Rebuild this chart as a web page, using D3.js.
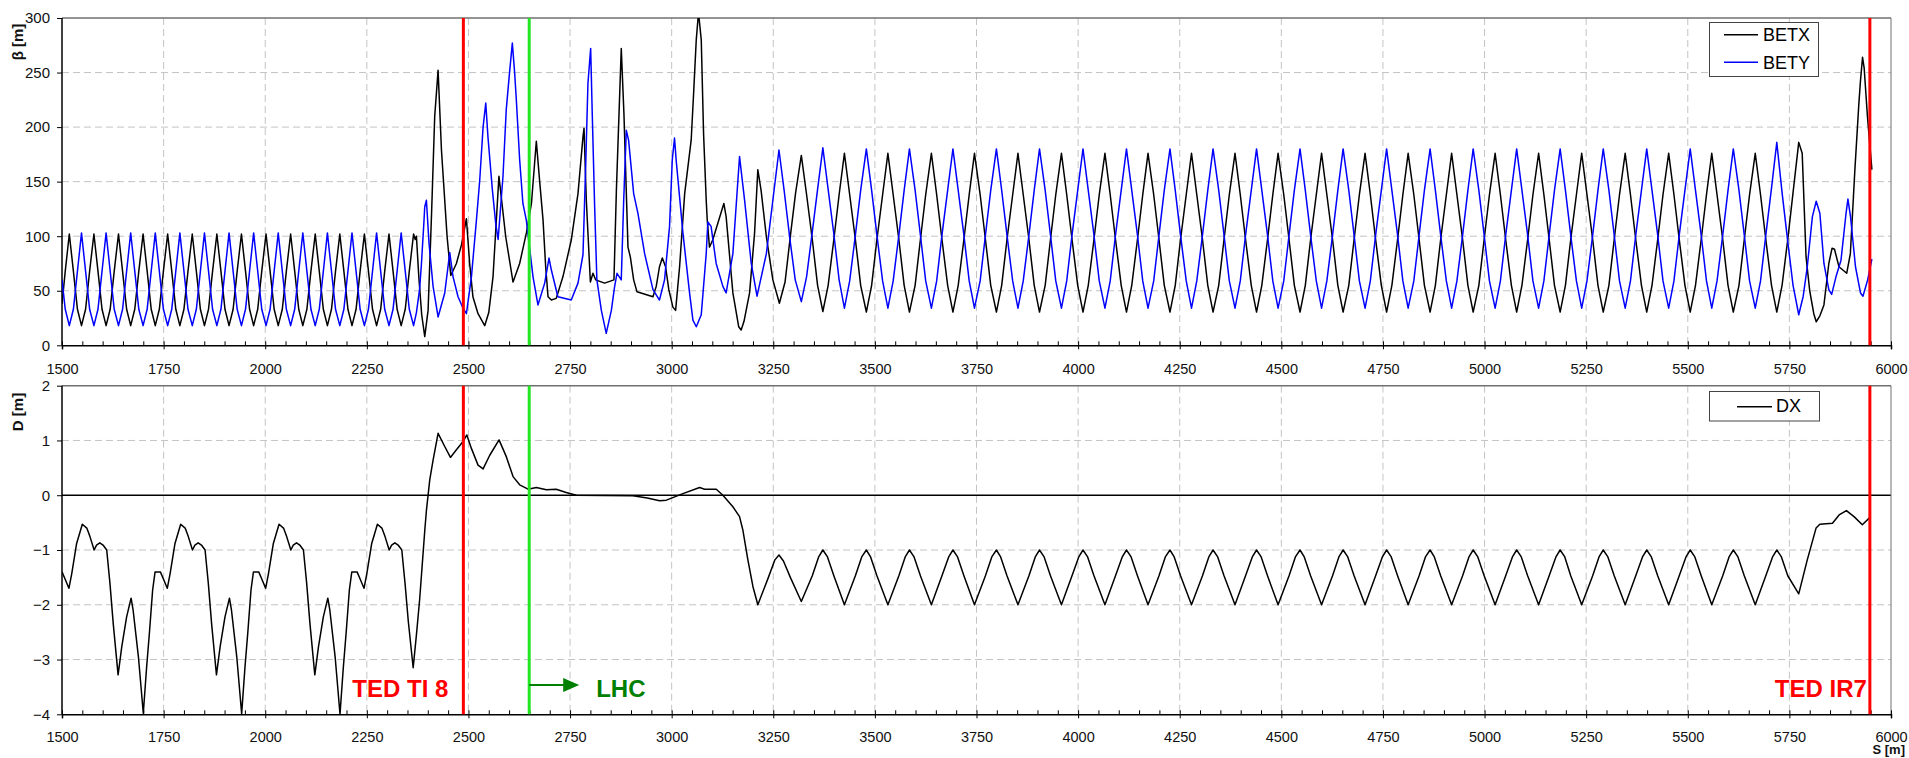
<!DOCTYPE html>
<html><head><meta charset="utf-8">
<script src="https://cdn.jsdelivr.net/npm/d3@7"></script>
<style>
body{margin:0;background:#fff}
svg{display:block}
text{font-family:"Liberation Sans",Arial,sans-serif}
</style>
</head><body>
<svg id="c" width="1909" height="758"></svg>
<script>
// ---------- data ----------
const sTicks = [1500,1750,2000,2250,2500,2750,3000,3250,3500,3750,4000,4250,4500,4750,5000,5250,5500,5750,6000];
const betaTicks = [0,50,100,150,200,250,300];
const dTicks = [-4,-3,-2,-1,0,1,2];
const seriesNamesTop = ["BETX","BETY"];
const seriesNamesBottom = ["DX"];
const markerS = [2487.5, 2649.5, 5948];
const markerNames = ["TED TI 8", "LHC", "TED IR7"];

const BETX = [
[1500,38],[1508,68],[1518,102],
[1528,68],[1538,33],[1548,18],[1558,33],[1568,68],[1578.5,102],
[1588.5,68],[1598.5,33],[1608.5,18],[1618.5,33],[1628.5,68],[1639,102],
[1649,68],[1659,33],[1669,18],[1679,33],[1689,68],[1699.5,102],
[1709.5,68],[1719.5,33],[1729.5,18],[1739.5,33],[1749.5,68],[1760,102],
[1770,68],[1780,33],[1790,18],[1800,33],[1810,68],[1820.5,102],
[1830.5,68],[1840.5,33],[1850.5,18],[1860.5,33],[1870.5,68],[1881,102],
[1891,68],[1901,33],[1911,18],[1921,33],[1931,68],[1941.5,102],
[1951.5,68],[1961.5,33],[1971.5,18],[1981.5,33],[1991.5,68],[2002,102],
[2012,68],[2022,33],[2032,18],[2042,33],[2052,68],[2062.5,102],
[2072.5,68],[2082.5,33],[2092.5,18],[2102.5,33],[2112.5,68],[2123,102],
[2133,68],[2143,33],[2153,18],[2163,33],[2173,68],[2183.5,102],
[2193.5,68],[2203.5,33],[2213.5,18],[2223.5,33],[2233.5,68],[2244,102],
[2254,68],[2264,33],[2274,18],[2284,33],[2294,68],[2304.5,102],
[2314.5,68],[2324.5,33],[2334.5,18],[2344.5,33],[2354.5,68],[2365,102],
[2369,97],[2372,100],[2378,62],[2385,28],[2392.5,8],[2400.7,32],[2409,118],[2417,210],[2425.3,252],
[2433.6,179],[2447.5,99.5],[2456.5,64],[2470.4,75],[2482.8,92],[2495,116],[2503,75],[2511,44.5],
[2523.6,29],[2540,18],[2550,30],[2560.5,63],[2575,155],[2591.7,99.5],[2609.7,58],[2626,75],
[2642.6,103],[2655,130],[2667,187],[2675.3,150],[2683.5,115],[2690,72],[2695.8,44.5],[2704,41.5],
[2716,43],[2732.6,63],[2753,96.5],[2769.5,139],[2781.8,191],[2784.4,199],[2790,133],[2800,58],
[2806.4,66],[2813,60],[2835,57],[2858,60],[2864,142],[2876,272],[2882.6,212],[2892.5,90],
[2898.3,81],[2906.5,60],[2914.7,49],[2954,44.5],[2962,54],[2970,72],[2977,80],[2985,72],
[2993,51],[3003,35],[3009.7,32],[3019.5,72],[3032,139],[3048,188],[3054,231],[3060.5,280],
[3066,305],[3072.8,280],[3078.5,194],[3085,133],[3087.5,115],[3093,90],[3101,96.5],[3128.4,130],
[3134,118],[3150.6,48],[3165,17],[3171,14],[3178,22],[3191.7,48],[3204,103],[3212,161],
[3220,142],[3233,99.5],[3249,60],[3265,38.5],[3279,58],[3292,100],[3305,140],[3319,174],
[3332,138],[3346,97],[3359,55],[3372,31],[3385,55],[3399,97],[3412,138],[3425,176],
[3438,138],[3452,97],[3465,55],[3479,30.5],[3492,55],[3505,97],[3519,138],[3532,176],
[3545,138],[3559,97],[3572,55],[3585,30.5],[3599,55],[3612,97],[3625,138],[3639,176],
[3652,138],[3665,97],[3679,55],[3692,30.5],[3705,55],[3719,97],[3732,138],[3745,176],
[3759,138],[3772,97],[3785,55],[3799,30.5],[3812,55],[3825,97],[3839,138],[3852,176],
[3865,138],[3879,97],[3892,55],[3905,30.5],[3919,55],[3932,97],[3945,138],[3959,176],
[3972,138],[3985,97],[3999,55],[4012,30.5],[4025,55],[4039,97],[4052,138],[4066,176],
[4079,138],[4092,97],[4106,55],[4119,30.5],[4132,55],[4146,97],[4159,138],[4172,176],
[4186,138],[4199,97],[4212,55],[4226,30.5],[4239,55],[4252,97],[4266,138],[4279,176],
[4292,138],[4306,97],[4319,55],[4332,30.5],[4346,55],[4359,97],[4372,138],[4386,176],
[4399,138],[4412,97],[4426,55],[4439,30.5],[4452,55],[4466,97],[4479,138],[4492,176],
[4506,138],[4519,97],[4532,55],[4546,30.5],[4559,55],[4572,97],[4586,138],[4599,176],
[4612,138],[4626,97],[4639,55],[4652,30.5],[4666,55],[4679,97],[4692,138],[4706,176],
[4719,138],[4732,97],[4746,55],[4759,30.5],[4772,55],[4786,97],[4799,138],[4812,176],
[4826,138],[4839,97],[4852,55],[4866,30.5],[4879,55],[4892,97],[4906,138],[4919,176],
[4932,138],[4946,97],[4959,55],[4972,30.5],[4986,55],[4999,97],[5012,138],[5026,176],
[5039,138],[5052,97],[5066,55],[5079,30.5],[5092,55],[5106,97],[5119,138],[5133,176],
[5146,138],[5159,97],[5172,55],[5186,30.5],[5199,55],[5212,97],[5226,138],[5239,176],
[5252,138],[5266,97],[5279,55],[5292,30.5],[5306,55],[5319,97],[5332,138],[5346,176],
[5359,138],[5372,97],[5386,55],[5399,30.5],[5412,55],[5426,97],[5439,138],[5453,176],
[5466,138],[5479,97],[5493,55],[5506,30.5],[5519,55],[5533,97],[5546,138],[5559,176],
[5572,138],[5586,97],[5599,55],[5612,30.5],[5626,55],[5639,97],[5652,138],[5666,176],
[5679,138],[5692,97],[5706,55],[5719,30.5],[5732,55],[5746,97],[5759,140],[5773,186],
[5781.5,176],[5791,81],[5800,50],[5810,29],[5816,21.6],[5825,27],[5835,37],[5847,75],
[5855,89],[5861,88],[5872,72],[5891,66],[5900,84],[5911,160],[5921,222],[5925,243],
[5930,264],[5934,254],[5942,210],[5953,161]
];

const BETY = [
[1500,60],[1508,33],[1518,18],
[1528,33],[1538,68],[1548,103],[1558,68],[1568,33],[1578.5,18],
[1588.5,33],[1598.5,68],[1608.5,103],[1618.5,68],[1628.5,33],[1639,18],
[1649,33],[1659,68],[1669,103],[1679,68],[1689,33],[1699.5,18],
[1709.5,33],[1719.5,68],[1729.5,103],[1739.5,68],[1749.5,33],[1760,18],
[1770,33],[1780,68],[1790,103],[1800,68],[1810,33],[1820.5,18],
[1830.5,33],[1840.5,68],[1850.5,103],[1860.5,68],[1870.5,33],[1881,18],
[1891,33],[1901,68],[1911,103],[1921,68],[1931,33],[1941.5,18],
[1951.5,33],[1961.5,68],[1971.5,103],[1981.5,68],[1991.5,33],[2002,18],
[2012,33],[2022,68],[2032,103],[2042,68],[2052,33],[2062.5,18],
[2072.5,33],[2082.5,68],[2092.5,103],[2102.5,68],[2112.5,33],[2123,18],
[2133,33],[2143,68],[2153,103],[2163,68],[2173,33],[2183.5,18],
[2193.5,33],[2203.5,68],[2213.5,103],[2223.5,68],[2233.5,33],[2244,18],
[2254,33],[2264,68],[2274,103],[2284,68],[2294,33],[2304.5,18],
[2314.5,33],[2324.5,68],[2334.5,103],[2344.5,68],[2354.5,33],[2365,18],
[2372,30],[2380,52],[2384.4,75],[2390,110],[2392.5,127],[2396.6,133],[2403,93.5],[2413,54],
[2425.3,26],[2441.7,48],[2454,85],[2462,63],[2474.4,44.5],[2486.7,34],[2495,29],[2507.4,63],
[2519.7,115],[2527.8,151.5],[2536,200],[2542.6,222],[2548,191],[2559,142],[2567,112],[2573,97],
[2585,155],[2593,216],[2601.6,252],[2608,277],[2613.8,249],[2617.8,225],[2626,170],[2634,130],
[2642.3,115],[2658.8,63],[2671,37],[2687.6,57],[2698.2,80],[2704,69],[2720,44.5],[2753,41.5],
[2769.5,57],[2781.8,83],[2788.4,164],[2794,240],[2800.7,272],[2804.8,209.5],[2810.5,127],[2816,60],
[2827,32],[2839,11],[2851.6,32],[2859.7,54],[2865.5,66],[2876,60],[2882,133],[2888.4,197],
[2894,188],[2906.5,139],[2917,121],[2933.5,84],[2954,51],[2970,41.5],[2982.5,60],[2994.8,109],
[3001.5,170],[3007,190],[3011,170],[3027.7,103],[3044,48],[3052.3,23],[3060.6,17],[3072.8,28],
[3085,84],[3089,113],[3097,109],[3109.5,75],[3126,54],[3134,48],[3150.6,84],[3167,173],
[3179.4,133],[3195.8,75],[3210,45],[3233,84],[3248,130],[3264,179],[3277,141],[3290,100],
[3304,60],[3319,40],
[3332,63],[3346,104],[3359,143],[3372,181],[3385,143],[3399,102],[3412,60],[3425,34],
[3438,59],[3452,101],[3465,142],[3479,180],[3492,142],[3505,101],[3519,59],[3532,34],
[3545,59],[3559,101],[3572,142],[3585,180],[3599,142],[3612,101],[3625,59],[3639,34],
[3652,59],[3665,101],[3679,142],[3692,180],[3705,142],[3719,101],[3732,59],[3745,34],
[3759,59],[3772,101],[3785,142],[3799,180],[3812,142],[3825,101],[3839,59],[3852,34],
[3865,59],[3879,101],[3892,142],[3905,180],[3919,142],[3932,101],[3945,59],[3959,34],
[3972,59],[3985,101],[3999,142],[4012,180],[4025,142],[4039,101],[4052,59],[4066,34],
[4079,59],[4092,101],[4106,142],[4119,180],[4132,142],[4146,101],[4159,59],[4172,34],
[4186,59],[4199,101],[4212,142],[4226,180],[4239,142],[4252,101],[4266,59],[4279,34],
[4292,59],[4306,101],[4319,142],[4332,180],[4346,142],[4359,101],[4372,59],[4386,34],
[4399,59],[4412,101],[4426,142],[4439,180],[4452,142],[4466,101],[4479,59],[4492,34],
[4506,59],[4519,101],[4532,142],[4546,180],[4559,142],[4572,101],[4586,59],[4599,34],
[4612,59],[4626,101],[4639,142],[4652,180],[4666,142],[4679,101],[4692,59],[4706,34],
[4719,59],[4732,101],[4746,142],[4759,180],[4772,142],[4786,101],[4799,59],[4812,34],
[4826,59],[4839,101],[4852,142],[4866,180],[4879,142],[4892,101],[4906,59],[4919,34],
[4932,59],[4946,101],[4959,142],[4972,180],[4986,142],[4999,101],[5012,59],[5026,34],
[5039,59],[5052,101],[5066,142],[5079,180],[5092,142],[5106,101],[5119,59],[5133,34],
[5146,59],[5159,101],[5172,142],[5186,180],[5199,142],[5212,101],[5226,59],[5239,34],
[5252,59],[5266,101],[5279,142],[5292,180],[5306,142],[5319,101],[5332,59],[5346,34],
[5359,59],[5372,101],[5386,142],[5399,180],[5412,142],[5426,101],[5439,59],[5453,34],
[5466,59],[5479,101],[5493,142],[5506,180],[5519,142],[5533,101],[5546,59],[5559,34],
[5572,59],[5586,101],[5599,142],[5612,180],[5626,142],[5639,101],[5652,59],[5666,34],
[5679,59],[5692,101],[5706,144],[5719,186],[5732,140],[5746,95],[5759,55],[5773,28],
[5784,45],[5794,72],[5806.6,118],[5816,132],[5825,121],[5835,75],[5847,51],[5854,46.7],
[5864.8,63],[5877,78],[5889.4,121],[5894,134],[5900.4,118],[5912.6,72],[5925,48],[5931,45],
[5942.6,60],[5953,79]
];

const DX = [
[1500,-1.40],[1507,-1.52],[1517,-1.70],[1524,-1.43],[1536,-0.88],[1550,-0.53],[1561,-0.60],[1569,-0.76],[1579,-1.00],[1585,-0.91],[1593,-0.87],[1601,-0.91],[1610,-1.00],[1618,-1.61],[1626,-2.34],[1638,-3.28],[1647,-2.77],[1659,-2.22],[1670,-1.88],[1675,-2.10],[1688,-2.95],[1700,-3.98],[1708,-3.16],[1715,-2.52],[1723,-1.73],[1729,-1.40],[1737,-1.40],
[1742,-1.40],[1749,-1.52],[1759,-1.70],[1766,-1.43],[1778,-0.88],[1792,-0.53],[1803,-0.60],[1811,-0.76],[1821,-1.00],[1827,-0.91],[1835,-0.87],[1843,-0.91],[1852,-1.00],[1860,-1.61],[1868,-2.34],[1880,-3.28],[1889,-2.77],[1901,-2.22],[1912,-1.88],[1917,-2.10],[1930,-2.95],[1942,-3.99],[1950,-3.16],[1957,-2.52],[1965,-1.73],[1971,-1.40],[1979,-1.40],
[1984,-1.40],[1991,-1.52],[2001,-1.70],[2008,-1.43],[2020,-0.88],[2034,-0.53],[2045,-0.60],[2053,-0.76],[2063,-1.00],[2069,-0.91],[2077,-0.87],[2085,-0.91],[2094,-1.00],[2102,-1.61],[2110,-2.34],[2122,-3.28],[2131,-2.77],[2143,-2.22],[2154,-1.88],[2159,-2.10],[2172,-2.95],[2184,-4.0],[2192,-3.16],[2199,-2.52],[2207,-1.73],[2213,-1.40],[2221,-1.40],
[2226,-1.40],[2233,-1.52],[2243,-1.70],[2250,-1.43],[2262,-0.88],[2276,-0.53],[2287,-0.60],[2295,-0.76],[2305,-1.00],[2311,-0.91],[2319,-0.87],[2327,-0.91],[2336,-1.00],[2344,-1.61],[2352,-2.30],[2364,-3.15],
[2372,-2.55],[2380,-1.9],[2386,-1.3],[2392.6,-0.64],[2396.7,-0.27],[2404.8,0.28],[2413,0.64],[2425.3,1.13],
[2441.7,0.89],[2455.7,0.69],[2470.4,0.83],[2486.7,0.98],[2496,1.10],[2507,0.86],[2523.6,0.55],[2536,0.48],
[2552.4,0.73],[2575.3,1.01],[2593.4,0.70],[2609.7,0.34],[2626,0.19],[2646.6,0.11],[2667,0.14],[2691.8,0.10],
[2716,0.11],[2740.6,0.05],[2765.5,0.0],[2904.7,-0.01],[2940,-0.05],[2970.4,-0.10],[2987,-0.09],[3027.7,0.03],
[3068.7,0.14],[3081,0.11],[3109.8,0.11],[3126,0.0],[3150.6,-0.21],[3167,-0.39],[3175.3,-0.64],[3187.5,-1.18],
[3200,-1.67],[3212,-2.0],
[3238,-1.5],[3254,-1.18],[3264,-1.09],[3275,-1.2],[3292,-1.5],[3319,-1.94],
[3346,-1.47],[3362,-1.12],[3372,-1.0],[3383,-1.12],[3399,-1.47],[3425,-2.0],
[3452,-1.47],[3468,-1.12],[3479,-1.0],[3489,-1.12],[3505,-1.47],[3532,-2.0],
[3559,-1.47],[3575,-1.12],[3585,-1.0],[3596,-1.12],[3612,-1.47],[3639,-2.0],
[3665,-1.47],[3682,-1.12],[3692,-1.0],[3703,-1.12],[3719,-1.47],[3745,-2.0],
[3772,-1.47],[3788,-1.12],[3799,-1.0],[3809,-1.12],[3825,-1.47],[3852,-2.0],
[3879,-1.47],[3895,-1.12],[3905,-1.0],[3916,-1.12],[3932,-1.47],[3959,-2.0],
[3985,-1.47],[4002,-1.12],[4012,-1.0],[4023,-1.12],[4039,-1.47],[4066,-2.0],
[4092,-1.47],[4109,-1.12],[4119,-1.0],[4130,-1.12],[4146,-1.47],[4172,-2.0],
[4199,-1.47],[4215,-1.12],[4226,-1.0],[4236,-1.12],[4252,-1.47],[4279,-2.0],
[4306,-1.47],[4322,-1.12],[4332,-1.0],[4343,-1.12],[4359,-1.47],[4386,-2.0],
[4412,-1.47],[4429,-1.12],[4439,-1.0],[4450,-1.12],[4466,-1.47],[4492,-2.0],
[4519,-1.47],[4535,-1.12],[4546,-1.0],[4556,-1.12],[4572,-1.47],[4599,-2.0],
[4626,-1.47],[4642,-1.12],[4652,-1.0],[4663,-1.12],[4679,-1.47],[4706,-2.0],
[4732,-1.47],[4749,-1.12],[4759,-1.0],[4770,-1.12],[4786,-1.47],[4812,-2.0],
[4839,-1.47],[4855,-1.12],[4866,-1.0],[4876,-1.12],[4892,-1.47],[4919,-2.0],
[4946,-1.47],[4962,-1.12],[4972,-1.0],[4983,-1.12],[4999,-1.47],[5026,-2.0],
[5052,-1.47],[5069,-1.12],[5079,-1.0],[5090,-1.12],[5106,-1.47],[5133,-2.0],
[5159,-1.47],[5176,-1.12],[5186,-1.0],[5197,-1.12],[5212,-1.47],[5239,-2.0],
[5266,-1.47],[5282,-1.12],[5292,-1.0],[5303,-1.12],[5319,-1.47],[5346,-2.0],
[5372,-1.47],[5389,-1.12],[5399,-1.0],[5410,-1.12],[5426,-1.47],[5453,-2.0],
[5479,-1.47],[5496,-1.12],[5506,-1.0],[5517,-1.12],[5533,-1.47],[5559,-2.0],
[5586,-1.47],[5602,-1.12],[5612,-1.0],[5623,-1.12],[5639,-1.47],[5666,-2.0],
[5692,-1.47],[5709,-1.12],[5719,-1.0],[5730,-1.12],[5746,-1.47],[5773,-1.80],
[5794,-1.18],[5815.6,-0.60],[5825,-0.53],[5856,-0.51],[5872.3,-0.36],[5890.3,-0.28],[5909,-0.39],[5929.5,-0.54],[5950,-0.39]
];

// ---------- layout ----------
const svg = d3.select("#c");
const x = d3.scaleLinear().domain([1500,6000]).range([62,1891]);
const yB = d3.scaleLinear().domain([0,300]).range([345.3,18]);
const yD = d3.scaleLinear().domain([-4,2]).range([714.3,385.7]);
const minorS = d3.range(1500, 6001, 50);

const defs = svg.append("defs");
function clip(id, y){
  defs.append("clipPath").attr("id", id).append("rect")
    .attr("x", x.range()[0]).attr("y", y.range()[1])
    .attr("width", x.range()[1]-x.range()[0]).attr("height", y.range()[0]-y.range()[1]);
}
clip("cpB", yB); clip("cpD", yD);

function drawPanel(y, yTicks, gridYs, zeroLine, pad){
  const g = svg.append("g");
  const [x0,x1] = x.range(); const [yb,yt] = y.range();
  g.selectAll(".gx").data(sTicks.slice(1,-1)).join("line")
    .attr("x1", d=>x(d)).attr("x2", d=>x(d)).attr("y1", yt).attr("y2", yb)
    .attr("stroke", "#c4c4c4").attr("stroke-width", 1).attr("stroke-dasharray", "7,4");
  g.selectAll(".gy").data(gridYs).join("line")
    .attr("x1", x0).attr("x2", x1).attr("y1", d=>y(d)).attr("y2", d=>y(d))
    .attr("stroke", "#c4c4c4").attr("stroke-width", 1).attr("stroke-dasharray", "7,4");
  if (zeroLine) g.append("line").attr("x1",x0).attr("x2",x1).attr("y1",y(0)).attr("y2",y(0))
    .attr("stroke","#000").attr("stroke-width",1.5);
  g.append("line").attr("x1",x0).attr("x2",x1).attr("y1",yt).attr("y2",yt).attr("stroke","#707070").attr("stroke-width",1.5);
  g.append("line").attr("x1",x1).attr("x2",x1).attr("y1",yt).attr("y2",yb).attr("stroke","#707070").attr("stroke-width",1);
  const ax = g.append("g").attr("transform",`translate(0,${yb})`)
    .call(d3.axisBottom(x).tickValues(sTicks).tickSize(4).tickPadding(pad).tickFormat(d3.format("d")));
  ax.select(".domain").attr("stroke","#000").attr("stroke-width",1.5);
  ax.selectAll("text").attr("font-size",14.5).attr("fill","#111").attr("font-family",'"Liberation Sans",Arial,sans-serif');
  g.append("g").attr("transform",`translate(0,${yb})`)
    .call(d3.axisBottom(x).tickValues(minorS).tickSize(-4).tickFormat(""))
    .call(s=>s.select(".domain").remove());
  const ay = g.append("g").attr("transform",`translate(${x0},0)`)
    .call(d3.axisLeft(y).tickValues(yTicks).tickSize(5).tickPadding(7).tickFormat(d3.format("d")));
  ay.select(".domain").attr("stroke","#000").attr("stroke-width",1.5).attr("d",`M0,${yt}V${yb}`);
  ay.selectAll("text").attr("font-size",15).attr("fill","#111").attr("font-family",'"Liberation Sans",Arial,sans-serif');
  return g;
}

drawPanel(yB, betaTicks, [50,100,150,200,250], false, 14);
drawPanel(yD, dTicks, [-3,-2,-1,1], true, 13);

const lineB = d3.line().x(d=>x(d[0])).y(d=>yB(d[1]));
const lineD = d3.line().x(d=>x(d[0])).y(d=>yD(d[1]));
const gB = svg.append("g").attr("clip-path","url(#cpB)");
gB.append("path").datum(BETX).attr("d",lineB).attr("fill","none").attr("stroke","#000").attr("stroke-width",1.5).attr("stroke-linejoin","round");
gB.append("path").datum(BETY).attr("d",lineB).attr("fill","none").attr("stroke","#0000ff").attr("stroke-width",1.5).attr("stroke-linejoin","round");
const gD = svg.append("g").attr("clip-path","url(#cpD)");
gD.append("path").datum(DX).attr("d",lineD).attr("fill","none").attr("stroke","#000").attr("stroke-width",1.5).attr("stroke-linejoin","round");

const markerColors = ["#ff0000","#22e622","#ff0000"];
[yB, yD].forEach(y=>{
  svg.append("g").selectAll("line").data(markerS).join("line")
    .attr("x1",d=>x(d)).attr("x2",d=>x(d)).attr("y1",y.range()[1]).attr("y2",y.range()[0])
    .attr("stroke",(d,i)=>markerColors[i]).attr("stroke-width",3);
});

svg.append("text").attr("x", x(markerS[0])-15).attr("y",697).attr("text-anchor","end")
  .attr("font-size",24).attr("font-weight","bold").attr("fill","#ff0000").text(markerNames[0]);
svg.append("text").attr("x", x(markerS[2])-3).attr("y",697).attr("text-anchor","end")
  .attr("font-size",24).attr("font-weight","bold").attr("fill","#ff0000").text(markerNames[2]);
svg.append("text").attr("x", x(markerS[1])+67).attr("y",697)
  .attr("font-size",24).attr("font-weight","bold").attr("fill","#008000").text(markerNames[1]);
const ax0 = x(markerS[1]);
svg.append("line").attr("x1",ax0).attr("x2",ax0+36).attr("y1",685).attr("y2",685).attr("stroke","#008000").attr("stroke-width",2);
svg.append("path").attr("d",`M${ax0+34},678L${ax0+50},685L${ax0+34},692Z`).attr("fill","#008000");

svg.append("text").attr("transform","translate(23,42) rotate(-90)").attr("text-anchor","middle")
  .attr("font-size",15).attr("font-weight","bold").attr("fill","#111").text("β [m]");
svg.append("text").attr("transform","translate(23,412) rotate(-90)").attr("text-anchor","middle")
  .attr("font-size",15).attr("font-weight","bold").attr("fill","#111").text("D [m]");
svg.append("text").attr("x",1905).attr("y",753.5).attr("text-anchor","end")
  .attr("font-size",13).attr("font-weight","bold").attr("fill","#111").text("S [m]");

const lgB = svg.append("g");
lgB.append("rect").attr("x",1709.5).attr("y",22.5).attr("width",109).attr("height",54).attr("fill","#fff").attr("stroke","#444").attr("stroke-width",1);
const lcol = ["#000","#0000ff"];
seriesNamesTop.forEach((n,i)=>{
  const yy = 34.7 + i*27.6;
  lgB.append("line").attr("x1",1724).attr("x2",1758).attr("y1",yy).attr("y2",yy).attr("stroke",lcol[i]).attr("stroke-width",1.5);
  lgB.append("text").attr("x",1763).attr("y",yy+6.3).attr("font-size",18).attr("fill","#000").text(n);
});
const lgD = svg.append("g");
lgD.append("rect").attr("x",1709.5).attr("y",391.5).attr("width",110).attr("height",29.5).attr("fill","#fff").attr("stroke","#444").attr("stroke-width",1);
lgD.append("line").attr("x1",1737).attr("x2",1772).attr("y1",406.7).attr("y2",406.7).attr("stroke","#000").attr("stroke-width",1.5);
lgD.append("text").attr("x",1776).attr("y",411.5).attr("font-size",18).attr("fill","#000").text(seriesNamesBottom[0]);
</script>
</body></html>
